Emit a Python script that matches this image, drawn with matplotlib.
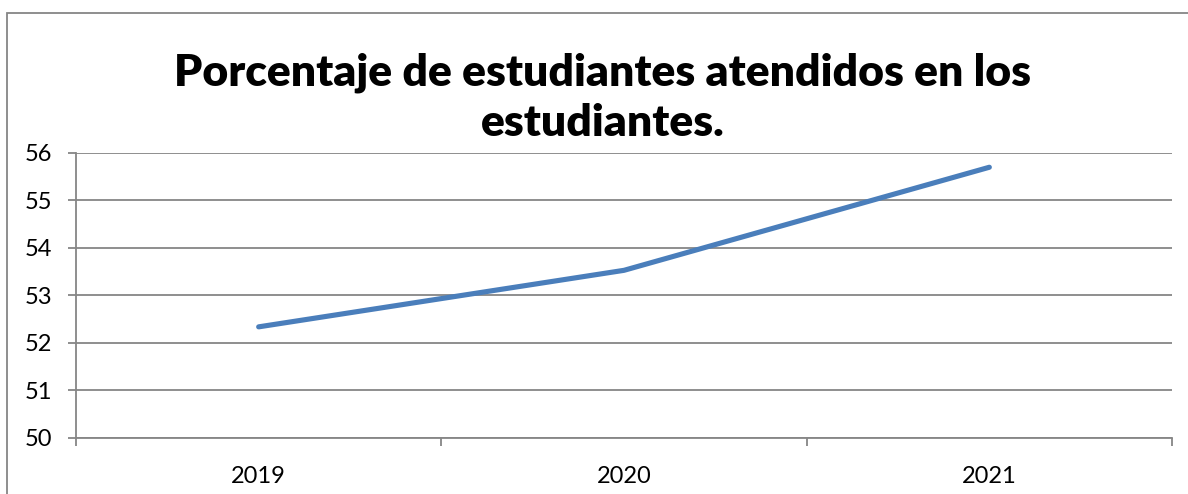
import matplotlib
matplotlib.use("Agg")
import matplotlib.pyplot as plt
from matplotlib.patches import Rectangle

# datos
years = ["2019", "2020", "2021"]
porcentaje = [52.34, 53.53, 55.70]
y_ticks = [50, 51, 52, 53, 54, 55, 56]

plt.rcParams['font.family'] = ['Lato', 'DejaVu Sans']
gris = "#868686"
azul = "#4a7ebb"

fig = plt.figure(figsize=(11.88, 4.94), dpi=100)
ax = fig.add_axes([76 / 1188, 1 - 438 / 494, (1172 - 76) / 1188, (438 - 153) / 494])

x = list(range(len(years)))
ax.plot(x, porcentaje, color=azul, linewidth=3.7, solid_capstyle="round", zorder=3)

ax.set_ylim(50, 56)
ax.set_yticks(y_ticks)
ax.set_xlim(-0.5, len(years) - 0.5)
ax.set_xticks([i - 0.5 for i in range(len(years) + 1)])
ax.set_xticklabels([])
ax.set_xticks(x, minor=True)
ax.set_xticklabels(years, minor=True)

ax.grid(axis="y", color=gris, linewidth=1.3)
ax.set_axisbelow(True)
for s in ["top", "right"]:
    ax.spines[s].set_visible(False)
for s in ["left", "bottom"]:
    ax.spines[s].set_color(gris)
    ax.spines[s].set_linewidth(1.3)

ax.tick_params(axis="y", length=6, width=1.3, color=gris, pad=11, labelsize=17)
ax.tick_params(axis="x", which="major", length=6, width=1.3, color=gris)
ax.tick_params(axis="x", which="minor", length=0, pad=20, labelsize=17)

fig.text(603 / 1188, 1 - 98 / 494, "Porcentaje de estudiantes atendidos en los\nestudiantes.",
         ha="center", va="center", fontsize=32, fontweight="heavy", linespacing=1.3)

# borde del área del gráfico
fig.patches.append(Rectangle((7 / 1188, -0.2), 1.2, 1 - 13.5 / 494 + 0.2,
                             transform=fig.transFigure, fill=False,
                             edgecolor=gris, linewidth=1.3))

fig.savefig("out.png", dpi=100)
